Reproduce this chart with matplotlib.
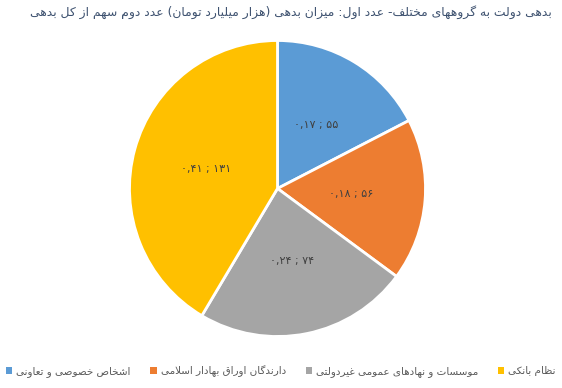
import matplotlib
matplotlib.use("Agg")
import matplotlib.pyplot as plt

# ---------------- data ----------------
categories = ["اشخاص خصوصی و تعاونی", "دارندگان اوراق بهادار اسلامی",
              "موسسات و نهادهای عمومی غیردولتی", "نظام بانکی"]
debt = [55, 56, 74, 131]          # هزار میلیارد تومان
share = [0.17, 0.18, 0.24, 0.41]  # سهم از کل بدهی
colors = ["#5B9BD5", "#ED7D31", "#A5A5A5", "#FFC000"]
title = "بدهی دولت به گروههای مختلف- عدد اول: میزان بدهی (هزار میلیارد تومان) عدد دوم سهم از کل بدهی"

# ------------- minimal Arabic/Persian shaping -------------
FORMS = {
    '\u0627': ('\uFE8D', '\uFE8E', None, None),
    '\u0622': ('\uFE81', '\uFE82', None, None),
    '\u0628': ('\uFE8F', '\uFE90', '\uFE91', '\uFE92'),
    '\u062A': ('\uFE95', '\uFE96', '\uFE97', '\uFE98'),
    '\u062B': ('\uFE99', '\uFE9A', '\uFE9B', '\uFE9C'),
    '\u062C': ('\uFE9D', '\uFE9E', '\uFE9F', '\uFEA0'),
    '\u062D': ('\uFEA1', '\uFEA2', '\uFEA3', '\uFEA4'),
    '\u062E': ('\uFEA5', '\uFEA6', '\uFEA7', '\uFEA8'),
    '\u062F': ('\uFEA9', '\uFEAA', None, None),
    '\u0630': ('\uFEAB', '\uFEAC', None, None),
    '\u0631': ('\uFEAD', '\uFEAE', None, None),
    '\u0632': ('\uFEAF', '\uFEB0', None, None),
    '\u0633': ('\uFEB1', '\uFEB2', '\uFEB3', '\uFEB4'),
    '\u0634': ('\uFEB5', '\uFEB6', '\uFEB7', '\uFEB8'),
    '\u0635': ('\uFEB9', '\uFEBA', '\uFEBB', '\uFEBC'),
    '\u0636': ('\uFEBD', '\uFEBE', '\uFEBF', '\uFEC0'),
    '\u0637': ('\uFEC1', '\uFEC2', '\uFEC3', '\uFEC4'),
    '\u0638': ('\uFEC5', '\uFEC6', '\uFEC7', '\uFEC8'),
    '\u0639': ('\uFEC9', '\uFECA', '\uFECB', '\uFECC'),
    '\u063A': ('\uFECD', '\uFECE', '\uFECF', '\uFED0'),
    '\u0641': ('\uFED1', '\uFED2', '\uFED3', '\uFED4'),
    '\u0642': ('\uFED5', '\uFED6', '\uFED7', '\uFED8'),
    '\u0644': ('\uFEDD', '\uFEDE', '\uFEDF', '\uFEE0'),
    '\u0645': ('\uFEE1', '\uFEE2', '\uFEE3', '\uFEE4'),
    '\u0646': ('\uFEE5', '\uFEE6', '\uFEE7', '\uFEE8'),
    '\u0647': ('\uFEE9', '\uFEEA', '\uFEEB', '\uFEEC'),
    '\u0648': ('\uFEED', '\uFEEE', None, None),
    '\u067E': ('\uFB56', '\uFB57', '\uFB58', '\uFB59'),
    '\u0686': ('\uFB7A', '\uFB7B', '\uFB7C', '\uFB7D'),
    '\u0698': ('\uFB8A', '\uFB8B', None, None),
    '\u06A9': ('\uFB8E', '\uFB8F', '\uFB90', '\uFB91'),
    '\u06AF': ('\uFB92', '\uFB93', '\uFB94', '\uFB95'),
    '\u06CC': ('\uFBFC', '\uFBFD', '\uFBFE', '\uFBFF'),
}


def _joins_left(c):
    f = FORMS.get(c)
    return f is not None and f[2] is not None


def shape(s):
    out = []
    n = len(s)
    i = 0
    while i < n:
        c = s[i]
        if c not in FORMS:
            out.append(c)
            i += 1
            continue
        prev_joins = i > 0 and _joins_left(s[i - 1])
        if c == '\u0644' and i + 1 < n and s[i + 1] in ('\u0627', '\u0622'):
            lig = ('\uFEFB', '\uFEFC') if s[i + 1] == '\u0627' else ('\uFEF5', '\uFEF6')
            out.append(lig[1] if prev_joins else lig[0])
            i += 2
            continue
        can_left = _joins_left(c) and i + 1 < n and s[i + 1] in FORMS
        iso, fin, ini, med = FORMS[c]
        if prev_joins and can_left:
            g = med
        elif prev_joins:
            g = fin
        elif can_left:
            g = ini
        else:
            g = iso
        out.append(g)
        i += 1
    return ''.join(out)


def rtl(s):
    mirror = {'(': ')', ')': '('}
    return ''.join(mirror.get(ch, ch) for ch in reversed(shape(s)))


def fa(s):
    return s.translate(str.maketrans('0123456789', '۰۱۲۳۴۵۶۷۸۹'))


labels = [fa(f"{p:.2f}".replace('.', ',')) + " ; " + fa(str(v)) for v, p in zip(debt, share)]

# ---------------- figure ----------------
plt.rcParams['font.family'] = ['DejaVu Sans']
W, H = 562, 388
fig = plt.figure(figsize=(W / 100, H / 100), dpi=100)
fig.patch.set_facecolor('white')

cx, cy, r = 277.5, 188.5, 148.0
ax = fig.add_axes([(cx - r) / W, (H - cy - r) / H, 2 * r / W, 2 * r / H])

wedges, texts = ax.pie(
    debt, colors=colors, startangle=90, counterclock=False, radius=1,
    wedgeprops=dict(edgecolor='white', linewidth=2),
    labels=labels, labeldistance=0.5,
    textprops=dict(color='#404040', fontsize=8))
for t in texts:
    t.set_ha('center')
    t.set_va('center')
ax.set_xlim(-1, 1)
ax.set_ylim(-1, 1)

ttl = fig.text(552 / W, 1 - 12 / H, rtl(title), ha='right', va='center',
               fontsize=9.5, color='#3E5270')

# fit title width to the reference (~527 px)
renderer = fig.canvas.get_renderer()
wt = ttl.get_window_extent(renderer).width
ttl.set_fontsize(9.5 * 527.0 / wt)

LFS = 7.5


def make_legend(cs):
    lg = fig.legend(wedges, [rtl(c) for c in categories], loc='center',
                    bbox_to_anchor=(281 / W, 1 - 371 / H), ncol=4, frameon=False,
                    fontsize=LFS, handlelength=0.6, handleheight=0.6,
                    handletextpad=0.4, columnspacing=cs, borderpad=0.0,
                    borderaxespad=0.0)
    for t in lg.get_texts():
        t.set_color('#595959')
    for h in lg.legend_handles:
        h.set_linewidth(0)
    return lg


leg = make_legend(0.0)
w0 = leg.get_window_extent(renderer).width
leg.remove()
px_per_em = LFS * 100 / 72.0
cs = max(0.5, (550.0 - w0) / 3.0 / px_per_em)
leg = make_legend(cs)

fig.savefig('out.png', dpi=100)
